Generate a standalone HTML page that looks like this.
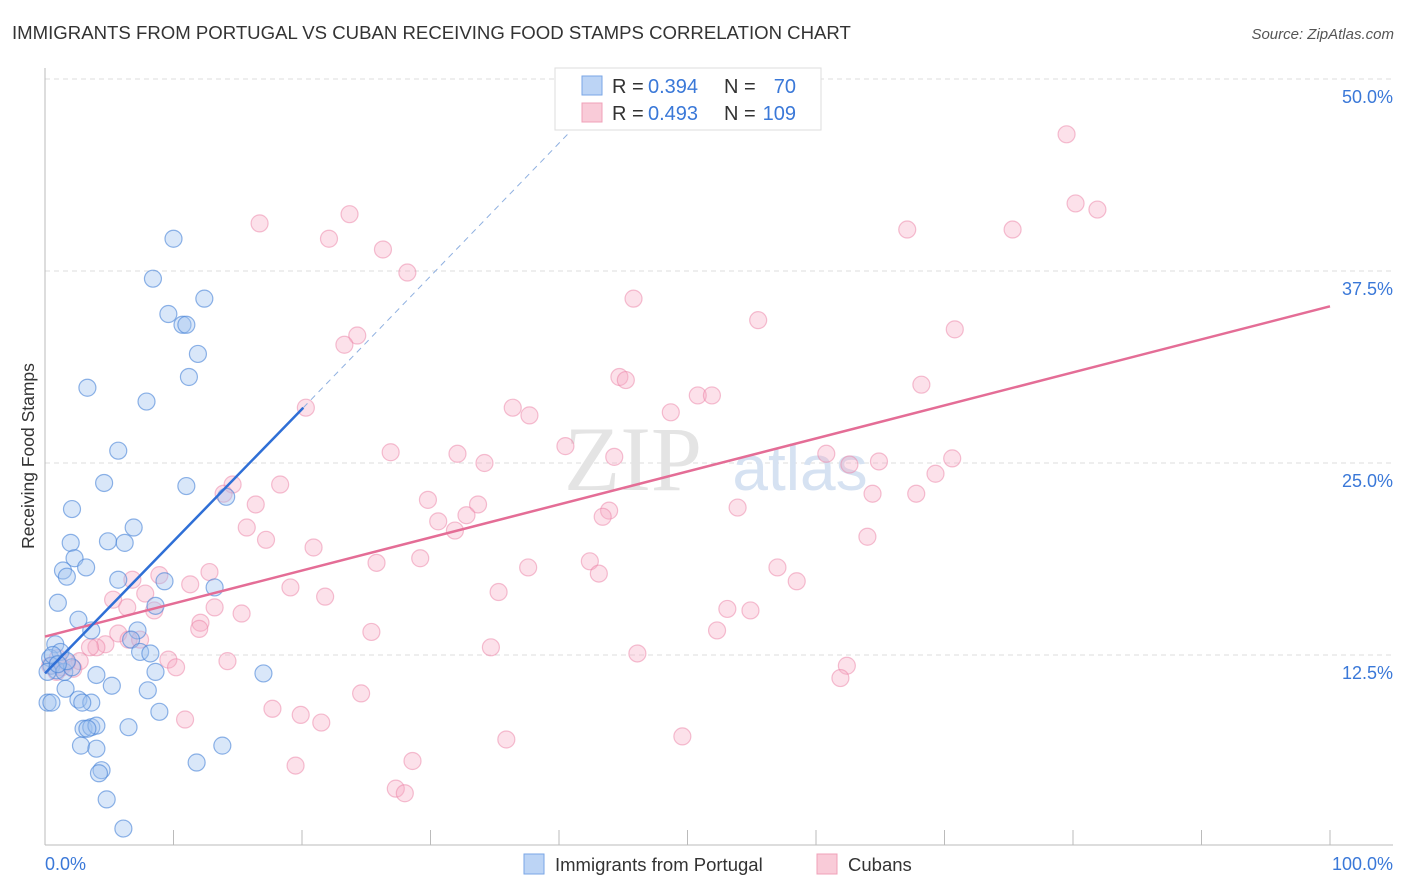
<!DOCTYPE html>
<html><head><meta charset="utf-8"><style>
body{margin:0;background:#fff;font-family:"Liberation Sans",sans-serif;}
svg{display:block}
</style></head><body>
<svg id="chart" width="1406" height="892" xmlns="http://www.w3.org/2000/svg">
<text x="12" y="39" font-size="18.6" fill="#333">IMMIGRANTS FROM PORTUGAL VS CUBAN RECEIVING FOOD STAMPS CORRELATION CHART</text>
<text x="1394" y="39" font-size="15" fill="#555" font-style="italic" text-anchor="end">Source: ZipAtlas.com</text>
<text x="34" y="456" font-size="17.5" fill="#333" text-anchor="middle" transform="rotate(-90 34 456)">Receiving Food Stamps</text>
<g id="grid"></g>
<text x="633" y="490" font-size="92" font-family="Liberation Serif,serif" fill="#e4e4e4" text-anchor="middle">ZIP</text>
<text x="800" y="490" font-size="64" fill="#d6e2f2" text-anchor="middle">atlas</text>
<g id="pts"></g>
<g id="lines"></g>
<g>
<rect x="555" y="68" width="266" height="62" fill="#fff" stroke="#ddd"/>
<rect x="582" y="76" width="20" height="19" fill="#bcd4f5" stroke="#7aa6e6"/>
<rect x="582" y="103" width="20" height="19" fill="#f9cbd8" stroke="#f0a0b8"/>
<text y="93" font-size="20" fill="#333"><tspan x="612">R =</tspan><tspan x="648" fill="#3a78d8">0.394</tspan><tspan x="724">N =</tspan><tspan x="796" text-anchor="end" fill="#3a78d8">70</tspan></text>
<text y="120" font-size="20" fill="#333"><tspan x="612">R =</tspan><tspan x="648" fill="#3a78d8">0.493</tspan><tspan x="724">N =</tspan><tspan x="796" text-anchor="end" fill="#3a78d8">109</tspan></text>
</g>
<g>
<rect x="524" y="854" width="20" height="20" fill="#bcd4f5" stroke="#7aa6e6"/>
<text x="555" y="871" font-size="18.5" fill="#333">Immigrants from Portugal</text>
<rect x="817" y="854" width="20" height="20" fill="#f9cbd8" stroke="#f0a0b8"/>
<text x="848" y="871" font-size="18.5" fill="#333">Cubans</text>
</g>
<text x="45" y="870" font-size="18" fill="#3a78d8">0.0%</text>
<text x="1393" y="870" font-size="18" fill="#3a78d8" text-anchor="end">100.0%</text>
</svg>
<script>
const yTicks=[12.5,25,37.5,50];
const yTickLabels=["12.5%","25.0%","37.5%","50.0%"];
const xTicks=[0,10,20,30,40,50,60,70,80,90,100];
const blueX=[10.0,8.4,12.4,9.6,10.7,11.0,11.9,11.2,3.3,7.9,5.7,11.0,4.6,14.1,2.1,6.9,2.0,4.9,6.2,2.3,1.4,3.2,1.7,5.7,9.3,13.2,1.0,8.6,2.6,3.6,7.2,6.7,0.8,7.4,8.2,0.4,0.5,0.9,1.5,2.1,0.2,8.6,17.0,4.0,1.6,5.2,8.0,0.2,0.5,2.6,3.6,2.9,8.9,3.0,3.6,4.0,3.3,6.5,2.8,4.0,13.8,4.4,4.2,11.8,4.8,6.1,1.2,1.7,0.6,1.0];
const blueY=[39.6,37.0,35.7,34.7,34.0,34.0,32.1,30.6,29.9,29.0,25.8,23.5,23.7,22.8,22.0,20.8,19.8,19.9,19.8,18.8,18.0,18.2,17.6,17.4,17.3,16.9,15.9,15.7,14.8,14.1,14.1,13.5,13.2,12.7,12.6,12.3,11.8,11.5,11.4,11.7,11.4,11.4,11.3,11.2,10.3,10.5,10.2,9.4,9.4,9.6,9.4,9.4,8.8,7.7,7.8,7.9,7.7,7.8,6.6,6.4,6.6,5.0,4.8,5.5,3.1,1.2,12.7,12.1,12.5,11.9];
const pinkX=[79.5,80.2,81.9,23.7,16.7,67.1,75.3,22.1,26.3,28.2,45.8,55.5,70.8,24.3,23.3,44.7,45.2,68.2,50.8,51.9,36.4,37.7,48.7,20.3,40.5,26.9,32.1,44.3,60.8,34.2,62.6,64.9,70.6,14.6,18.3,69.3,13.9,29.8,64.4,67.8,16.4,33.7,53.9,32.8,43.9,43.4,30.6,31.9,15.7,17.2,64.0,20.9,29.2,25.8,42.4,37.6,43.1,57.0,8.9,12.8,58.5,6.8,11.3,19.1,7.8,5.3,21.8,35.3,6.4,13.2,8.5,15.3,53.1,54.9,12.1,12.0,52.3,25.4,5.7,6.5,7.4,4.7,4.0,3.5,34.7,46.1,9.6,2.7,1.7,14.2,10.2,0.9,1.3,0.4,62.4,61.9,24.6,17.7,19.9,10.9,21.5,35.9,49.6,19.5,28.6,27.3,28.0,2.2,1.0];
const pinkY=[46.4,41.9,41.5,41.2,40.6,40.2,40.2,39.6,38.9,37.4,35.7,34.3,33.7,33.3,32.7,30.6,30.4,30.1,29.4,29.4,28.6,28.1,28.3,28.6,26.1,25.7,25.6,25.4,25.6,25.0,24.9,25.1,25.3,23.6,23.6,24.3,23.0,22.6,23.0,23.0,22.3,22.3,22.1,21.6,21.9,21.5,21.2,20.6,20.8,20.0,20.2,19.5,18.8,18.5,18.6,18.2,17.8,18.2,17.7,17.9,17.3,17.4,17.1,16.9,16.5,16.1,16.3,16.6,15.6,15.6,15.4,15.2,15.5,15.4,14.6,14.2,14.1,14.0,13.9,13.5,13.5,13.2,13.0,13.0,13.0,12.6,12.2,12.1,12.0,12.1,11.7,11.4,11.7,11.8,11.8,11.0,10.0,9.0,8.6,8.3,8.1,7.0,7.2,5.3,5.6,3.8,3.5,11.6,12.3];
const blueTrend=[[0,11.3],[20.1,28.6]];
const blueTrendExt=[[20.1,28.6],[40.9,46.6]];
const pinkTrend=[[0,13.7],[100,35.2]];
const NS="http://www.w3.org/2000/svg";
const sx=v=>45+v*12.85;
const sy=v=>847-v*15.36;
function mk(tag,attrs,parent){const e=document.createElementNS(NS,tag);for(const k in attrs)e.setAttribute(k,attrs[k]);parent.appendChild(e);return e;}
const grid=document.getElementById('grid');
yTicks.forEach((t,i)=>{
  const l=mk('line',{x1:45,x2:1393,y1:sy(t),y2:sy(t),stroke:'#ddd','stroke-dasharray':'5,4'},grid);
  
  
  const tx=mk('text',{x:1393,y:sy(t)+24,'font-size':18,fill:'#3a78d8','text-anchor':'end'},grid);
  tx.textContent=yTickLabels[i];
  
  
});
const ax=mk('line',{x1:45,x2:45,y1:68,y2:845,stroke:'#bbb'},grid);


const bx=mk('line',{x1:45,x2:1393,y1:845,y2:845,stroke:'#bbb'},grid);


xTicks.forEach(t=>{
  const l=mk('line',{x1:sx(t),x2:sx(t),y1:830,y2:845,stroke:'#bbb'},grid);
  
  
});
const pts=document.getElementById('pts');
pinkX.forEach((x,i)=>{
  const c=mk('circle',{cx:sx(x),cy:sy(pinkY[i]),r:8.5,fill:'rgba(246,170,195,0.35)',stroke:'rgba(236,130,165,0.5)','stroke-width':1.2},pts);
  
  
});
blueX.forEach((x,i)=>{
  const c=mk('circle',{cx:sx(x),cy:sy(blueY[i]),r:8.5,fill:'rgba(160,195,240,0.4)',stroke:'rgba(70,130,215,0.6)','stroke-width':1.2},pts);
  
  
});
const lines=document.getElementById('lines');
const pl=mk('line',{x1:sx(pinkTrend[0][0]),y1:sy(pinkTrend[0][1]),x2:sx(pinkTrend[1][0]),y2:sy(pinkTrend[1][1]),stroke:'#e46d96','stroke-width':2.5},lines);


const bl=mk('line',{x1:sx(blueTrend[0][0]),y1:sy(blueTrend[0][1]),x2:sx(blueTrend[1][0]),y2:sy(blueTrend[1][1]),stroke:'#2f6fd6','stroke-width':2.5},lines);


const be=mk('line',{x1:sx(blueTrendExt[0][0]),y1:sy(blueTrendExt[0][1]),x2:sx(blueTrendExt[1][0]),y2:sy(blueTrendExt[1][1]),stroke:'#8fb0e0','stroke-width':1,'stroke-dasharray':'6,5'},lines);


</script>
</body></html>
